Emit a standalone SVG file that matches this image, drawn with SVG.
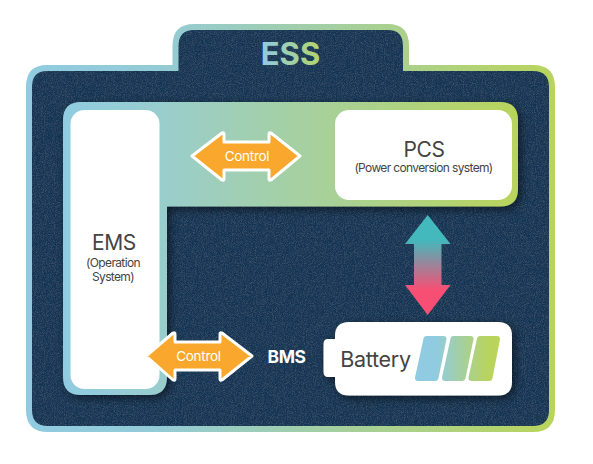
<svg xmlns="http://www.w3.org/2000/svg" width="593" height="464" viewBox="0 0 593 464">
<style>
.t{font-family:Inter,"Liberation Sans",sans-serif;text-anchor:middle;fill:#444}
.big{font-size:21px;letter-spacing:-.4px}
.sm{font-size:12px;letter-spacing:-.65px}
.c{font-family:Inter,"Liberation Sans",sans-serif;text-anchor:middle;fill:#fff;font-size:13.5px;letter-spacing:-.3px}
.a{fill:#f9a82d;stroke:#fff;stroke-width:3;stroke-linejoin:round}
.w{fill:#fff}
.cell{fill:url(#b);stroke:url(#b);stroke-width:6;stroke-linejoin:round}
</style>
<defs>
<linearGradient id="g" gradientUnits="userSpaceOnUse" x1="26" y1="0" x2="555" y2="0"><stop offset="0" stop-color="#90cbe1"/><stop offset=".25" stop-color="#93cbd6"/><stop offset="1" stop-color="#b9d45c"/></linearGradient>
<linearGradient id="l" gradientUnits="userSpaceOnUse" x1="63" y1="0" x2="518" y2="0"><stop offset="0" stop-color="#90cbe1"/><stop offset=".2" stop-color="#98cdcf"/><stop offset="1" stop-color="#b9d45c"/></linearGradient>
<linearGradient id="e" gradientUnits="userSpaceOnUse" x1="262" y1="0" x2="320" y2="0"><stop offset="0" stop-color="#90cbe1"/><stop offset="1" stop-color="#b3d46b"/></linearGradient>
<linearGradient id="v" gradientUnits="userSpaceOnUse" x1="0" y1="240" x2="0" y2="290"><stop offset="0" stop-color="#43b8bd"/><stop offset="1" stop-color="#f74f74"/></linearGradient>
<linearGradient id="b" gradientUnits="userSpaceOnUse" x1="420" y1="0" x2="500" y2="0"><stop offset=".2" stop-color="#90cbe1"/><stop offset=".85" stop-color="#b9d45c"/></linearGradient>
<filter id="s" x="-20%" y="-20%" width="140%" height="140%"><feDropShadow dx="3" dy="3" stdDeviation="5" flood-color="#000" flood-opacity=".55"/></filter>
<filter id="n" filterUnits="userSpaceOnUse" x="20" y="20" width="540" height="420"><feTurbulence type="fractalNoise" baseFrequency="1.1" numOctaves="2" seed="3"/><feColorMatrix values="0 0 0 0 .32  0 0 0 0 .42  0 0 0 0 .55  .2 .2 0 0 -.17"/><feComposite in2="SourceAlpha" operator="in"/><feMerge><feMergeNode in="SourceGraphic"/><feMergeNode/></feMerge></filter>
</defs>
<rect width="593" height="464" fill="#fff"/>
<g id="ess">
<path filter="url(#n)" d="M47 68H175.500V46Q175.500 27 194 27H388Q406 27 406 46V68H533Q552 68 552 87V410Q552 429 533 429H48Q29 429 29 410V87Q29 68 47 68Z" fill="#193452"/>
<path d="M47 68H175.500V46Q175.500 27 194 27H388Q406 27 406 46V68H533Q552 68 552 87V410Q552 429 533 429H48Q29 429 29 410V87Q29 68 47 68Z" fill="none" stroke="url(#g)" stroke-width="6"/>
<text x="290.500" y="65" font-family="Inter,'Liberation Sans',sans-serif" font-size="31" font-weight="700" text-anchor="middle" fill="url(#e)">ESS</text>
</g>
<g id="frame">
<path filter="url(#s)" d="M81 102H500Q518 102 518 120V189Q518 206.500 500 206.500H167V377Q167 395 149 395H81Q63 395 63 377V120Q63 102 81 102Z" fill="url(#l)"/>
</g>
<g id="ems">
<rect class="w" x="70.500" y="110" width="89" height="279" rx="14"/>
<text class="t big" x="114" y="250">EMS</text>
<text class="t sm" x="113" y="267">(Operation</text>
<text class="t sm" x="113" y="281">System)</text>
</g>
<g id="pcs">
<rect class="w" x="335" y="110" width="177" height="90" rx="14"/>
<text class="t big" x="424" y="157">PCS</text>
<text class="t sm" x="423.500" y="172">(Power conversion system)</text>
</g>
<g id="bms">
<text x="286.500" y="363" font-family="Inter,'Liberation Sans',sans-serif" font-size="17.500" font-weight="700" letter-spacing="-.5" text-anchor="middle" fill="#fff">BMS</text>
</g>
<g id="battery">
<g filter="url(#s)"><path class="w" d="M349 322H498Q512 322 512 336V381.500Q512 395.500 498 395.500H349Q335 395.500 335 381.500V377H328Q323.500 377 323.500 372V344Q323.500 339 328 339H335V336Q335 322 349 322Z"/></g>
<text class="t" x="375.500" y="367" font-size="21.500" letter-spacing="-.3">Battery</text>
<polygon class="cell" points="426.500,339 443.500,339 435.500,378 418,378"/>
<polygon class="cell" points="453.500,339 470.500,339 462.500,378 445,378"/>
<polygon class="cell" points="480,339 497,339 489.500,378 471.500,378"/>
</g>
<g id="connectors">
<g id="control-top"><path class="a" d="M192 156L222 133Q224 132 224 134V142H269V134Q269 132 271 133L300 156L271 180Q269 181 269 179V170H224V179Q224 181 222 180Z"/><text class="c" x="247" y="161">Control</text></g>
<g id="control-bottom"><path class="a" d="M146 356L173 333Q175 332 175 334V342H220V334Q220 332 222 333L252 356L222 380Q220 381 220 379V370H175V379Q175 381 173 380Z"/><text class="c" x="198.500" y="361">Control</text></g>
<path id="power" fill="url(#v)" d="M427.700 215L450.500 244H441.500V285H450.500L427.700 315L405 285H414V244H405Z"/>
</g>
</svg>
